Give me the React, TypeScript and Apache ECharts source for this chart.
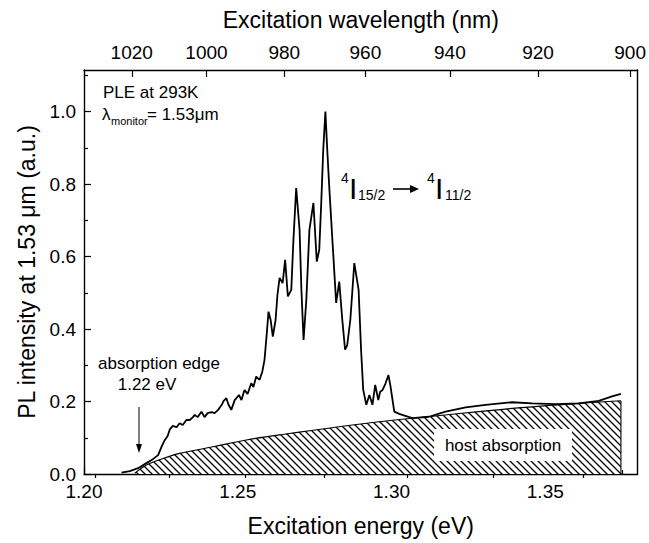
import React, { useEffect, useRef } from 'react';
import * as echarts from 'echarts';

// PL excitation spectrum (monitored at 1.53 µm)
const energy = [
  1.2122, 1.2149, 1.2176, 1.2203, 1.2224, 1.2241, 1.2253, 1.2263, 1.2272, 1.2279,
  1.2289, 1.2301, 1.2311, 1.2321, 1.2333, 1.2344, 1.2354, 1.2360, 1.2370, 1.2382,
  1.2392, 1.2402, 1.2415, 1.2425, 1.2436, 1.2448, 1.2454, 1.2463, 1.2470, 1.2479,
  1.2490, 1.2504, 1.2512, 1.2522, 1.2532, 1.2544, 1.2551, 1.2560, 1.2571, 1.2580,
  1.2587, 1.2594, 1.2600, 1.2607, 1.2614, 1.2623, 1.2629, 1.2636, 1.2646, 1.2654,
  1.2663, 1.2674, 1.2681, 1.2690, 1.2701, 1.2707, 1.2714, 1.2723, 1.2733, 1.2746,
  1.2757, 1.2765, 1.2771, 1.2778, 1.2785, 1.2791, 1.2798, 1.2809, 1.2820, 1.2830,
  1.2840, 1.2849, 1.2856, 1.2866, 1.2879, 1.2893, 1.2901, 1.2908, 1.2918, 1.2928,
  1.2938, 1.2947, 1.2957, 1.2963, 1.2971, 1.2980, 1.2990, 1.2996, 1.3009, 1.3025,
  1.3068, 1.3122, 1.3176, 1.3241, 1.3306, 1.3392, 1.3457, 1.3533, 1.3609, 1.3674,
  1.3717, 1.3746,
];
const intensity = [
  0.004, 0.008, 0.016, 0.030, 0.041, 0.052, 0.077, 0.094, 0.105, 0.123,
  0.133, 0.129, 0.140, 0.135, 0.149, 0.149, 0.157, 0.163, 0.157, 0.172,
  0.157, 0.168, 0.171, 0.168, 0.177, 0.191, 0.202, 0.209, 0.191, 0.177,
  0.204, 0.218, 0.204, 0.232, 0.221, 0.251, 0.240, 0.269, 0.260, 0.283,
  0.315, 0.384, 0.448, 0.425, 0.379, 0.425, 0.494, 0.541, 0.527, 0.591,
  0.490, 0.508, 0.646, 0.789, 0.674, 0.508, 0.370, 0.481, 0.674, 0.748,
  0.586, 0.619, 0.738, 0.895, 1.000, 0.895, 0.785, 0.628, 0.472, 0.531,
  0.425, 0.343, 0.356, 0.425, 0.582, 0.508, 0.343, 0.232, 0.191, 0.218,
  0.191, 0.246, 0.204, 0.227, 0.232, 0.249, 0.273, 0.246, 0.172, 0.166,
  0.154, 0.158, 0.172, 0.184, 0.191, 0.198, 0.195, 0.193, 0.195, 0.202,
  0.214, 0.221,
];

// Host absorption (hatched region)
const hostEnergy = [1.2165, 1.2203, 1.2257, 1.2311, 1.2419, 1.2528, 1.2636, 1.2960, 1.3176, 1.3392, 1.3609, 1.3746];
const hostAbsorption = [0.002, 0.025, 0.043, 0.057, 0.075, 0.094, 0.108, 0.144, 0.163, 0.181, 0.195, 0.202];

// Axis ticks
const energyTicks = [1.2, 1.25, 1.3, 1.35];
const energyMinorTicks = [1.225, 1.275, 1.325, 1.375];
const wavelengthTicks = [1020, 1000, 980, 960, 940, 920, 900];
const wavelengthMinorTicks = [1030, 1010, 990, 970, 950, 930, 910];
const intensityTicks = [0, 0.2, 0.4, 0.6, 0.8, 1.0];
const intensityMinorTicks = [0.1, 0.3, 0.5, 0.7, 0.9, 1.1];
const HC = 1239.84; // eV·nm

const FONT = '"Liberation Sans", Arial, Helvetica, sans-serif';

function makeHatch(): HTMLCanvasElement {
  const s = 7;
  const c = document.createElement('canvas');
  c.width = s;
  c.height = s;
  const ctx = c.getContext('2d')!;
  ctx.fillStyle = '#fff';
  ctx.fillRect(0, 0, s, s);
  ctx.strokeStyle = '#000';
  ctx.lineWidth = 1.3;
  ctx.beginPath();
  ctx.moveTo(-1, -1);
  ctx.lineTo(s + 1, s + 1);
  ctx.moveTo(-1, s - 1);
  ctx.lineTo(1, s + 1);
  ctx.moveTo(s - 1, -1);
  ctx.lineTo(s + 1, 1);
  ctx.stroke();
  return c;
}

export default function App() {
  const ref = useRef<HTMLDivElement>(null);
  useEffect(() => {
    if (!ref.current) return;
    const chart = echarts.init(ref.current, undefined, { renderer: 'svg' });
    const hatch = makeHatch();
    const black = '#000';
    const tickLabel = { fontFamily: FONT, fontSize: 19, color: black };
    const line = { show: true, onZero: false, lineStyle: { color: black, width: 1.4 } };
    const tickStyle = { color: black, width: 1.2 };
    const lastE = hostEnergy[hostEnergy.length - 1];
    const lastA = hostAbsorption[hostAbsorption.length - 1];

    const option: any = {
      animation: false,
      backgroundColor: '#fff',
      grid: { left: 84, right: 10, top: 70, bottom: 69, containLabel: false },
      xAxis: [
        {
          type: 'value', position: 'bottom', min: 1.2, max: 1.38,
          axisLine: line,
          axisTick: { show: true, inside: true, length: 7, customValues: energyTicks, lineStyle: tickStyle },
          axisLabel: { show: true, customValues: energyTicks, formatter: (v: number) => v.toFixed(2), margin: 8, ...tickLabel },
          splitLine: { show: false },
          name: 'Excitation energy (eV)', nameLocation: 'middle', nameGap: 40,
          nameTextStyle: { fontFamily: FONT, fontSize: 23, color: black },
        },
        {
          type: 'value', position: 'bottom', min: 1.2, max: 1.38,
          axisLine: { show: false },
          axisTick: { show: true, inside: true, length: 4, customValues: energyMinorTicks, lineStyle: tickStyle },
          axisLabel: { show: false },
          splitLine: { show: false },
        },
        {
          type: 'value', position: 'top', min: 1.2, max: 1.38,
          axisLine: line,
          axisTick: { show: true, inside: true, length: 7, customValues: wavelengthTicks.map((l) => HC / l), lineStyle: tickStyle },
          axisLabel: { show: true, customValues: wavelengthTicks.map((l) => HC / l), formatter: (v: number) => String(Math.round(HC / v)), margin: 8, ...tickLabel },
          splitLine: { show: false },
          name: 'Excitation wavelength (nm)', nameLocation: 'middle', nameGap: 39,
          nameTextStyle: { fontFamily: FONT, fontSize: 23, color: black },
        },
        {
          type: 'value', position: 'top', min: 1.2, max: 1.38,
          axisLine: { show: false },
          axisTick: { show: true, inside: true, length: 4, customValues: wavelengthMinorTicks.map((l) => HC / l), lineStyle: tickStyle },
          axisLabel: { show: false },
          splitLine: { show: false },
        },
      ],
      yAxis: [
        {
          type: 'value', position: 'left', min: 0, max: 1.115,
          axisLine: line,
          axisTick: { show: true, inside: true, length: 7, customValues: intensityTicks, lineStyle: tickStyle },
          axisLabel: { show: true, customValues: intensityTicks, formatter: (v: number) => v.toFixed(1), margin: 8, ...tickLabel },
          splitLine: { show: false },
          name: 'PL intensity at 1.53 \u03bcm (a.u.)', nameLocation: 'middle', nameGap: 44,
          nameTextStyle: { fontFamily: FONT, fontSize: 23, color: black },
        },
        {
          type: 'value', position: 'left', min: 0, max: 1.115,
          axisLine: { show: false },
          axisTick: { show: true, inside: true, length: 4, customValues: intensityMinorTicks, lineStyle: tickStyle },
          axisLabel: { show: false },
          splitLine: { show: false },
        },
        {
          type: 'value', position: 'right', min: 0, max: 1.115,
          axisLine: line,
          axisTick: { show: false },
          axisLabel: { show: false },
          splitLine: { show: false },
        },
      ],
      series: [
        {
          type: 'line', name: 'host absorption',
          data: hostEnergy.map((e, i) => [e, hostAbsorption[i]]),
          smooth: 0.35, symbol: 'none',
          lineStyle: { color: black, width: 1.1 },
          areaStyle: { color: { image: hatch, repeat: 'repeat' }, opacity: 1, origin: 'start' },
          z: 2,
        },
        {
          type: 'line', name: 'host edge',
          data: [[lastE, lastA], [lastE, 0]],
          symbol: 'none',
          lineStyle: { color: black, width: 1.1 },
          z: 2,
        },
        {
          type: 'line', name: 'PLE',
          data: energy.map((e, i) => [e, intensity[i]]),
          symbol: 'none',
          lineStyle: { color: black, width: 1.8 },
          z: 3,
        },
      ],
      graphic: [
        { type: 'text', left: 103, top: 84, z: 100, style: { text: 'PLE at 293K', fontFamily: FONT, fontSize: 17, fill: black } },
        { type: 'text', x: 102, y: 114, z: 100, style: { text: '\u03bb', fontFamily: FONT, fontSize: 17, fill: black, verticalAlign: 'middle' } },
        { type: 'text', x: 111, y: 121, z: 100, style: { text: 'monitor', fontFamily: FONT, fontSize: 11, fill: black, verticalAlign: 'middle' } },
        { type: 'text', x: 147, y: 114, z: 100, style: { text: '= 1.53\u03bcm', fontFamily: FONT, fontSize: 17, fill: black, verticalAlign: 'middle' } },

        { type: 'text', x: 341, y: 178, z: 100, style: { text: '4', fontFamily: FONT, fontSize: 14, fill: black, verticalAlign: 'middle' } },
        { type: 'text', x: 349, y: 188, z: 100, style: { text: 'I', fontFamily: FONT, fontSize: 30, fill: black, verticalAlign: 'middle' } },
        { type: 'text', x: 358, y: 195, z: 100, style: { text: '15/2', fontFamily: FONT, fontSize: 14, fill: black, verticalAlign: 'middle' } },
        { type: 'line', z: 100, shape: { x1: 393, y1: 189, x2: 414, y2: 189 }, style: { stroke: black, lineWidth: 1.6 } },
        { type: 'polygon', z: 100, shape: { points: [[419, 189], [410, 185], [410, 193]] }, style: { fill: black } },
        { type: 'text', x: 427, y: 178, z: 100, style: { text: '4', fontFamily: FONT, fontSize: 14, fill: black, verticalAlign: 'middle' } },
        { type: 'text', x: 435, y: 188, z: 100, style: { text: 'I', fontFamily: FONT, fontSize: 30, fill: black, verticalAlign: 'middle' } },
        { type: 'text', x: 445, y: 195, z: 100, style: { text: '11/2', fontFamily: FONT, fontSize: 14, fill: black, verticalAlign: 'middle' } },

        { type: 'text', x: 159, y: 363, z: 100, style: { text: 'absorption edge', fontFamily: FONT, fontSize: 17, fill: black, align: 'center', verticalAlign: 'middle' } },
        { type: 'text', x: 147, y: 384, z: 100, style: { text: '1.22 eV', fontFamily: FONT, fontSize: 17, fill: black, align: 'center', verticalAlign: 'middle' } },
        { type: 'line', z: 100, shape: { x1: 139, y1: 407, x2: 139, y2: 446 }, style: { stroke: black, lineWidth: 1 } },
        { type: 'polygon', z: 100, shape: { points: [[139, 453], [136, 444], [142, 444]] }, style: { fill: black } },

        { type: 'rect', z: 100, shape: { x: 434, y: 429, width: 138, height: 32 }, style: { fill: '#fff' } },
        { type: 'text', x: 503, y: 445, z: 101, style: { text: 'host absorption', fontFamily: FONT, fontSize: 17, fill: black, align: 'center', verticalAlign: 'middle' } },
      ],
    };
    chart.setOption(option);
    return () => chart.dispose();
  }, []);
  return (
    <div
      ref={ref}
      style={{ position: 'absolute', left: 0, top: 0, width: 649, height: 543, background: '#fff' }}
    />
  );
}
